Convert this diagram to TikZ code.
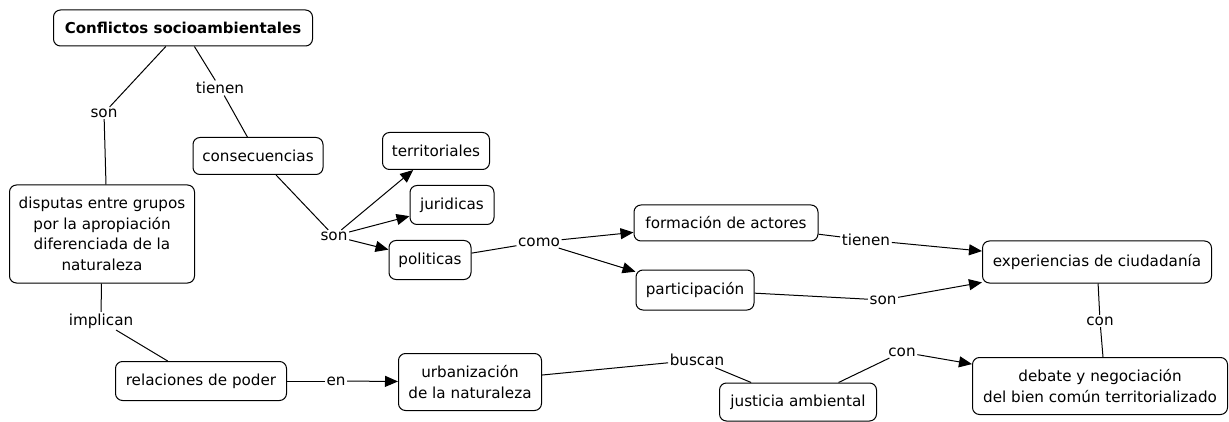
\documentclass[tikz,border=0pt]{standalone}
\usepackage{fontspec}
\setmainfont{DejaVu Sans}
\usetikzlibrary{arrows.meta}
\tikzset{
  concept/.style={draw, rounded corners=7pt, line width=1pt, align=center, inner sep=0pt,
    font=\fontsize{15.2}{20.5}\selectfont, fill=white},
  lbl/.style={inner sep=1.5pt, font=\fontsize{15.2}{17}\selectfont},
  conn/.style={line width=1pt},
  arr/.style={line width=1pt, -{Triangle[length=13pt,width=11pt]}}
}
\begin{document}
\begin{tikzpicture}[x=1pt,y=-1pt]
\useasboundingbox (0,0) rectangle (1229,422);
% concepts
\node[concept, minimum width=259pt, minimum height=36pt, font=\bfseries\fontsize{15}{17}\selectfont] (conf) at (183,28) {Conflictos socioambientales};
\node[concept, minimum width=130pt, minimum height=37pt] (cons) at (258,156) {consecuencias};
\node[concept, minimum width=107pt, minimum height=37pt] (terr) at (436,151) {territoriales};
\node[concept, minimum width=84pt, minimum height=39pt] (jur) at (452,205) {juridicas};
\node[concept, minimum width=82pt, minimum height=39pt] (pol) at (430,260) {politicas};
\node[concept, minimum width=185pt, minimum height=98pt] (disp) at (102,234) {disputas entre grupos\\por la apropiación\\diferenciada de la\\naturaleza};
\node[concept, minimum width=184pt, minimum height=36pt] (form) at (726,223) {formación de actores};
\node[concept, minimum width=118pt, minimum height=40pt] (part) at (695,290) {participación};
\node[concept, minimum width=229pt, minimum height=42pt] (exp) at (1097,262) {experiencias de ciudadanía};
\node[concept, minimum width=171pt, minimum height=39pt] (rel) at (201,381) {relaciones de poder};
\node[concept, minimum width=143pt, minimum height=57pt] (urb) at (470,382) {urbanización\\de la naturaleza};
\node[concept, minimum width=157pt, minimum height=38pt] (just) at (798,402) {justicia ambiental};
\node[concept, minimum width=255pt, minimum height=57pt] (deb) at (1100,386) {debate y negociación\\del bien común territorializado};
% linking phrases
\node[lbl] (l1) at (104,113) {son};
\node[lbl] (l2) at (220,88) {tienen};
\node[lbl] (l3) at (334,236) {son};
\node[lbl] (l4) at (539,242) {como};
\node[lbl] (l5) at (866,240) {tienen};
\node[lbl] (l6) at (883,300) {son};
\node[lbl] (l7) at (101,321) {implican};
\node[lbl] (l8) at (336,381) {en};
\node[lbl] (l9) at (697,360) {buscan};
\node[lbl] (l10) at (902,352) {con};
\node[lbl] (l11) at (1100,321) {con};
% connectors
\draw[conn] (conf) -- (l1);
\draw[conn] (l1) -- ([xshift=4pt]disp.north);
\draw[conn] (conf) -- (l2);
\draw[conn] (l2) -- (cons);
\draw[conn] (cons) -- (l3);
\draw[arr] (l3) -- (terr);
\draw[arr] (l3) -- (jur);
\draw[arr] (l3) -- (pol);
\draw[conn] (pol) -- (l4);
\draw[arr] (l4) -- (form);
\draw[arr] (l4) -- (part);
\draw[conn] (form) -- (l5);
\draw[arr] (l5) -- (exp);
\draw[conn] (part) -- (l6);
\draw[arr] (l6) -- (exp);
\draw[conn] (disp) -- (l7);
\draw[conn] (l7) -- (rel);
\draw[conn] (rel) -- (l8);
\draw[arr] (l8) -- (urb);
\draw[conn] (urb) -- (l9);
\draw[conn] (l9) -- (just);
\draw[conn] (just) -- (l10);
\draw[arr] (l10) -- (deb);
\draw[conn] (exp) -- (l11);
\draw[conn] (l11) -- ([xshift=3pt]deb.north);
\end{tikzpicture}
\end{document}
